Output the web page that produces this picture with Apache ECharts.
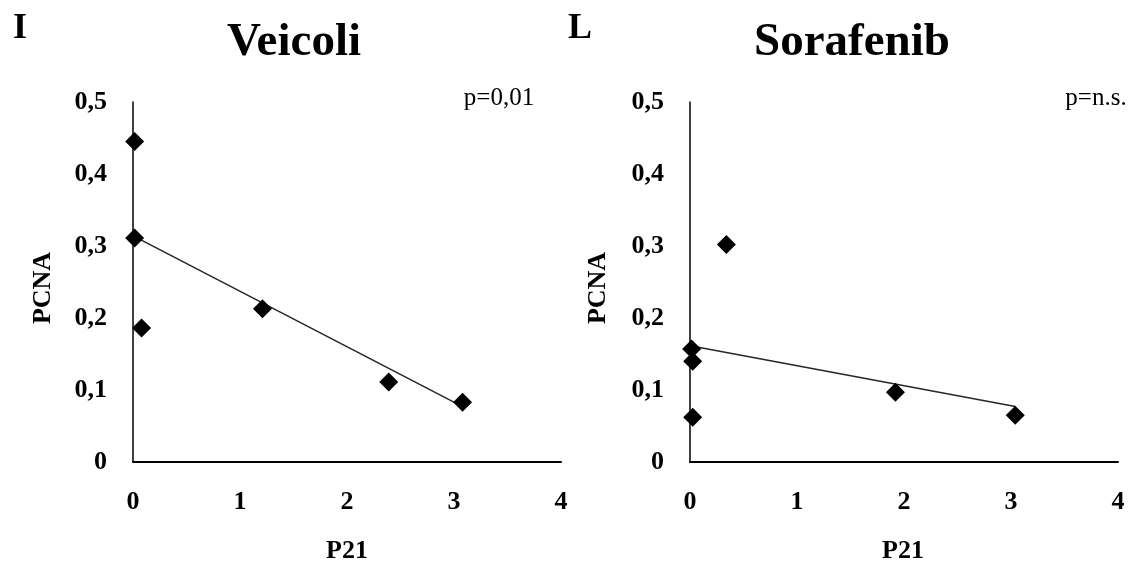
<!DOCTYPE html>
<html>
<head>
<meta charset="utf-8">
<script src="https://cdn.jsdelivr.net/npm/echarts@6/dist/echarts.min.js"></script>
<style>
  html, body { margin: 0; padding: 0; background: #ffffff; }
  #chart { width: 1129px; height: 562px; }
</style>
</head>
<body>
<div id="chart"></div>
<script>
// Axis ticks
const xTickValues = [0, 1, 2, 3, 4];
const yTickLabels = ['0', '0,1', '0,2', '0,3', '0,4', '0,5'];

// Veicoli group: P21 vs PCNA
const veicoliP21  = [0.015, 0.015, 0.08, 1.21, 2.39, 3.08];
const veicoliPCNA = [0.445, 0.311, 0.186, 0.213, 0.111, 0.083];
// Linear trend line endpoints [P21, PCNA]
const veicoliTrend = [[0.015, 0.313], [3.08, 0.077]];

// Sorafenib group: P21 vs PCNA
const sorafenibP21  = [0.34, 0.015, 0.025, 0.025, 1.92, 3.04];
const sorafenibPCNA = [0.302, 0.157, 0.140, 0.062, 0.097, 0.065];
// Linear trend line endpoints [P21, PCNA]
const sorafenibTrend = [[0.015, 0.161], [3.04, 0.077]];

// Panel texts
const panelLetters = ['I', 'L'];
const panelTitles = ['Veicoli', 'Sorafenib'];
const pValues = ['p=0,01', 'p=n.s.'];

const pairs = (xs, ys) => xs.map((x, i) => [x, ys[i]]);

const serif = '"Liberation Serif", "Times New Roman", serif';

const grids = [
  { left: 133, top: 102, width: 428, height: 360 },
  { left: 690, top: 102, width: 428, height: 360 }
];

function xAxisFor(gi) {
  return {
    gridIndex: gi, type: 'value', min: 0, max: 4, interval: 1,
    axisLine: { show: true, onZero: false, lineStyle: { color: '#000', width: 2 } },
    axisTick: { show: false },
    splitLine: { show: false },
    axisLabel: {
      margin: 27, color: '#000', fontFamily: serif, fontWeight: 'bold', fontSize: 26,
      formatter: (v) => String(xTickValues[xTickValues.indexOf(v)])
    }
  };
}
function yAxisFor(gi) {
  return {
    gridIndex: gi, type: 'value', min: 0, max: 0.5, interval: 0.1,
    axisLine: { show: true, onZero: false, lineStyle: { color: '#000', width: 1.5 } },
    axisTick: { show: false },
    splitLine: { show: false },
    axisLabel: {
      margin: 26, color: '#000', fontFamily: serif, fontWeight: 'bold', fontSize: 26,
      formatter: (v, i) => yTickLabels[i]
    }
  };
}

function panelSeries(gi, xs, ys, trend) {
  return [
    {
      type: 'line', xAxisIndex: gi, yAxisIndex: gi,
      data: trend, symbol: 'none', silent: true, z: 2,
      lineStyle: { color: '#262626', width: 1.5 }
    },
    {
      type: 'scatter', xAxisIndex: gi, yAxisIndex: gi,
      data: pairs(xs, ys), symbol: 'diamond', symbolSize: 19, z: 3,
      itemStyle: { color: '#000', opacity: 1 }
    }
  ];
}

function txt(text, x, y, size, weight, opts) {
  return Object.assign({
    type: 'text', x: x, y: y, silent: true,
    style: {
      text: text, fill: '#000',
      font: weight + ' ' + size + 'px ' + serif,
      align: 'center', verticalAlign: 'middle'
    }
  }, opts || {});
}

const chart = echarts.init(document.getElementById('chart'), null, { renderer: 'canvas' });
chart.setOption({
  backgroundColor: '#ffffff',
  animation: false,
  grid: grids,
  xAxis: [xAxisFor(0), xAxisFor(1)],
  yAxis: [yAxisFor(0), yAxisFor(1)],
  series: [
    ...panelSeries(0, veicoliP21, veicoliPCNA, veicoliTrend),
    ...panelSeries(1, sorafenibP21, sorafenibPCNA, sorafenibTrend)
  ],
  graphic: [
    txt(panelLetters[0], 20, 29, 36, 'bold'),
    txt(panelLetters[1], 580, 29, 36, 'bold'),
    txt(panelTitles[0], 294, 43, 47, 'bold'),
    txt(panelTitles[1], 852, 43, 47, 'bold'),
    txt(pValues[0], 499, 98, 25, 'normal'),
    txt(pValues[1], 1096, 98, 25, 'normal'),
    txt('PCNA', 43, 288, 26, 'bold', { rotation: Math.PI / 2 }),
    txt('PCNA', 598, 288, 26, 'bold', { rotation: Math.PI / 2 }),
    txt('P21', 347, 551, 26, 'bold'),
    txt('P21', 903, 551, 26, 'bold')
  ]
});
</script>
</body>
</html>
